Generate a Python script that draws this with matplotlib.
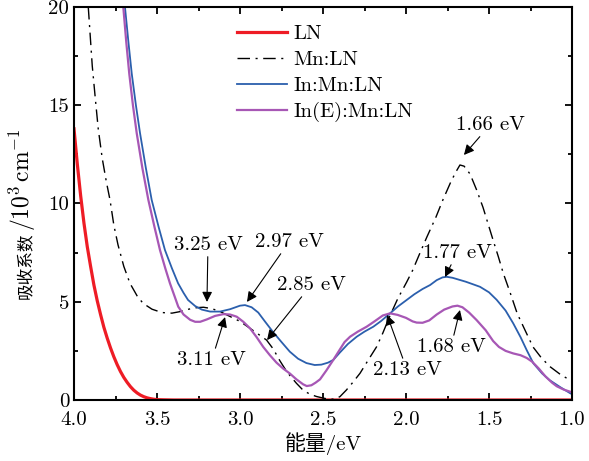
import numpy as np
import matplotlib
matplotlib.use('Agg')
import matplotlib.pyplot as plt
from matplotlib.ticker import MultipleLocator, FormatStrFormatter

plt.rcParams['font.family'] = ['cmr10', 'Noto Sans CJK SC', 'DejaVu Sans']
plt.rcParams['mathtext.fontset'] = 'cm'
plt.rcParams['axes.formatter.use_mathtext'] = True
plt.rcParams['font.size'] = 15

# LN
ln_x = [4.00, 3.98, 3.96, 3.94, 3.92, 3.90, 3.88, 3.86, 3.84, 3.82, 3.80, 3.78,
        3.76, 3.74, 3.72, 3.70, 3.68, 3.66, 3.64, 3.62, 3.60, 3.58, 3.56, 3.54,
        3.52, 3.50, 3.46, 3.40, 3.00, 2.50, 2.00, 1.50, 1.00]
ln_y = [13.8, 12.0, 10.4, 9.0, 7.8, 6.8, 5.85, 5.05, 4.35, 3.7, 3.15, 2.65,
        2.2, 1.8, 1.45, 1.15, 0.9, 0.68, 0.5, 0.36, 0.25, 0.17, 0.11, 0.07,
        0.04, 0.02, 0.01, 0.0, 0.0, 0.0, 0.0, 0.0, 0.0]

# Mn:LN
mn_x = [3.914, 3.89, 3.87, 3.854, 3.83, 3.805, 3.783, 3.76, 3.735, 3.70, 3.663, 3.62,
        3.584, 3.53, 3.47, 3.41, 3.36, 3.31, 3.26, 3.22, 3.17, 3.12, 3.06, 3.00,
        2.94, 2.89, 2.84, 2.80, 2.76, 2.73, 2.70, 2.66, 2.62, 2.58, 2.54, 2.50,
        2.46, 2.43, 2.398, 2.36, 2.32, 2.277, 2.23, 2.177, 2.14, 2.096, 2.05, 1.996,
        1.96, 1.92, 1.874, 1.82, 1.777, 1.73, 1.70, 1.675, 1.65, 1.614, 1.575, 1.536,
        1.505, 1.474, 1.444, 1.414, 1.37, 1.33, 1.28, 1.235, 1.185, 1.133, 1.07, 1.01, 1.00]
mn_y = [20.0, 17.0, 15.2, 13.8, 12.3, 11.1, 10.18, 8.9, 7.9, 6.8, 5.94, 5.3,
        4.92, 4.62, 4.45, 4.42, 4.5, 4.62, 4.7, 4.72, 4.65, 4.5, 4.25, 4.0,
        3.65, 3.35, 3.05, 2.6, 2.0, 1.6, 1.25, 0.85, 0.5, 0.3, 0.18, 0.1,
        0.03, 0.05, 0.17, 0.5, 0.9, 1.36, 2.0, 2.71, 3.4, 4.3, 5.15, 6.0,
        6.6, 7.4, 8.3, 9.3, 10.2, 11.1, 11.6, 11.96, 11.9, 11.5, 10.7, 9.8,
        8.95, 8.1, 7.3, 6.45, 5.4, 4.4, 3.5, 2.7, 2.15, 1.7, 1.3, 1.0, 0.95]

# In:Mn:LN
in_x = [3.693, 3.672, 3.652, 3.627, 3.602, 3.567, 3.532, 3.49, 3.452, 3.41, 3.373, 3.34,
        3.313, 3.27, 3.23, 3.18, 3.12, 3.06, 3.00, 2.97, 2.93, 2.89, 2.85, 2.80,
        2.75, 2.70, 2.65, 2.60, 2.55, 2.51, 2.47, 2.438, 2.40, 2.35, 2.297, 2.25,
        2.197, 2.15, 2.096, 2.05, 1.996, 1.95, 1.90, 1.855, 1.815, 1.78, 1.755, 1.72,
        1.68, 1.64, 1.60, 1.554, 1.50, 1.454, 1.40, 1.354, 1.31, 1.273, 1.233, 1.18,
        1.133, 1.07, 1.01, 1.00]
in_y = [20.0, 18.2, 16.6, 15.0, 13.57, 11.8, 10.18, 8.8, 7.63, 6.7, 5.94, 5.45,
        5.09, 4.78, 4.6, 4.5, 4.5, 4.62, 4.8, 4.83, 4.72, 4.45, 4.0, 3.45,
        2.95, 2.46, 2.1, 1.88, 1.78, 1.8, 1.9, 2.04, 2.4, 2.85, 3.22, 3.48,
        3.73, 4.02, 4.41, 4.75, 5.09, 5.38, 5.65, 5.85, 6.1, 6.24, 6.27, 6.22,
        6.12, 6.02, 5.9, 5.76, 5.48, 5.1, 4.55, 3.9, 3.2, 2.54, 1.87, 1.35,
        1.0, 0.65, 0.34, 0.3]

# In(E):Mn:LN
ie_x = [3.703, 3.685, 3.667, 3.645, 3.622, 3.588, 3.552, 3.515, 3.482, 3.45, 3.422, 3.395,
        3.372, 3.34, 3.30, 3.27, 3.24, 3.20, 3.15, 3.10, 3.06, 3.02, 2.98, 2.94,
        2.90, 2.86, 2.82, 2.78, 2.74, 2.70, 2.66, 2.62, 2.598, 2.57, 2.545, 2.518,
        2.48, 2.438, 2.40, 2.37, 2.337, 2.29, 2.237, 2.19, 2.14, 2.096, 2.05, 2.00,
        1.96, 1.936, 1.90, 1.86, 1.815, 1.77, 1.72, 1.69, 1.66, 1.62, 1.575, 1.52,
        1.475, 1.44, 1.40, 1.354, 1.31, 1.273, 1.24, 1.20, 1.16, 1.12, 1.092, 1.05,
        1.01, 1.00]
ie_y = [20.0, 18.2, 16.6, 15.0, 13.57, 11.8, 10.18, 8.8, 7.63, 6.7, 5.94, 5.3,
        4.75, 4.35, 4.08, 3.98, 3.98, 4.1, 4.28, 4.37, 4.35, 4.24, 3.98, 3.65,
        3.2, 2.7, 2.28, 1.9, 1.6, 1.35, 1.05, 0.8, 0.71, 0.75, 0.88, 1.05,
        1.5, 2.04, 2.55, 2.95, 3.22, 3.48, 3.73, 4.0, 4.3, 4.41, 4.33, 4.18,
        4.0, 3.94, 3.93, 4.05, 4.35, 4.6, 4.76, 4.8, 4.72, 4.45, 4.07, 3.55,
        3.0, 2.7, 2.5, 2.37, 2.28, 2.14, 1.95, 1.6, 1.2, 0.88, 0.7, 0.53,
        0.42, 0.38]

# annotations: label, arrow tip, text centre
ann_labels = ['1.66 eV', '3.25 eV', '2.97 eV', '2.85 eV', '3.11 eV', '1.77 eV', '1.68 eV', '2.13 eV']
ann_xy = [(1.651, 12.47), (3.199, 4.99), (2.958, 4.99), (2.837, 3.05),
          (3.09, 4.22), (1.765, 6.26), (1.675, 4.58), (2.114, 4.33)]
ann_text = [(1.494, 14.0), (3.193, 7.89), (2.705, 8.04), (2.572, 5.85),
            (3.17, 2.04), (1.693, 7.48), (1.729, 2.7), (1.994, 1.53)]

W, H = 589, 461
fig = plt.figure(figsize=(W/100, H/100), dpi=100)
ax = fig.add_axes([74/W, 1-400/H, 498/W, 393/H])

ax.plot(ln_x, ln_y, color='#ee1c25', lw=2.3, label='LN', solid_joinstyle='round')
ax.plot(mn_x, mn_y, color='k', lw=1.0, dashes=[9, 4, 1.5, 4], label='Mn:LN')
ax.plot(in_x, in_y, color='#2b5fad', lw=1.3, label='In:Mn:LN', solid_joinstyle='round')
ax.plot(ie_x, ie_y, color='#a757b5', lw=1.6, label='In(E):Mn:LN', solid_joinstyle='round')

for lab, xy, xt in zip(ann_labels, ann_xy, ann_text):
    ax.annotate(lab, xy=xy, xytext=xt, ha='center', va='center', fontsize=15,
                arrowprops=dict(arrowstyle='-|>', color='k', lw=0.8,
                                shrinkA=0, shrinkB=0))

ax.set_xlim(4.0, 1.0)
ax.set_ylim(0, 20)
ax.xaxis.set_major_locator(MultipleLocator(0.5))
ax.xaxis.set_minor_locator(MultipleLocator(0.25))
ax.yaxis.set_major_locator(MultipleLocator(5))
ax.yaxis.set_minor_locator(MultipleLocator(2.5))
ax.xaxis.set_major_formatter(FormatStrFormatter('%.1f'))
ax.yaxis.set_major_formatter(FormatStrFormatter('%d'))
ax.tick_params(which='both', direction='in', top=True, right=True, width=1.3)
ax.tick_params(which='major', length=5)
ax.tick_params(which='minor', length=3)
ax.tick_params(axis='x', pad=8)
for s in ax.spines.values():
    s.set_linewidth(1.5)

ax.set_xlabel('能量/eV', labelpad=2)

# y label in two pieces so the CJK part keeps its glyphs
fig.text(30/W, 1-299/H, '吸收系数', rotation=90, rotation_mode='anchor',
         ha='left', va='baseline', fontsize=12, family='Noto Sans CJK SC')
fig.text(30/W, 1-231/H, r'/10$^3\,$cm$^{-1}$', rotation=90, rotation_mode='anchor',
         ha='left', va='baseline', fontsize=17)

ax.legend(loc='upper left', bbox_to_anchor=(0.327, 0.955), frameon=False,
          borderaxespad=0, borderpad=0, handlelength=2.4, handletextpad=0.3,
          labelspacing=0.35, fontsize=15)

fig.savefig('out.png', dpi=100)
